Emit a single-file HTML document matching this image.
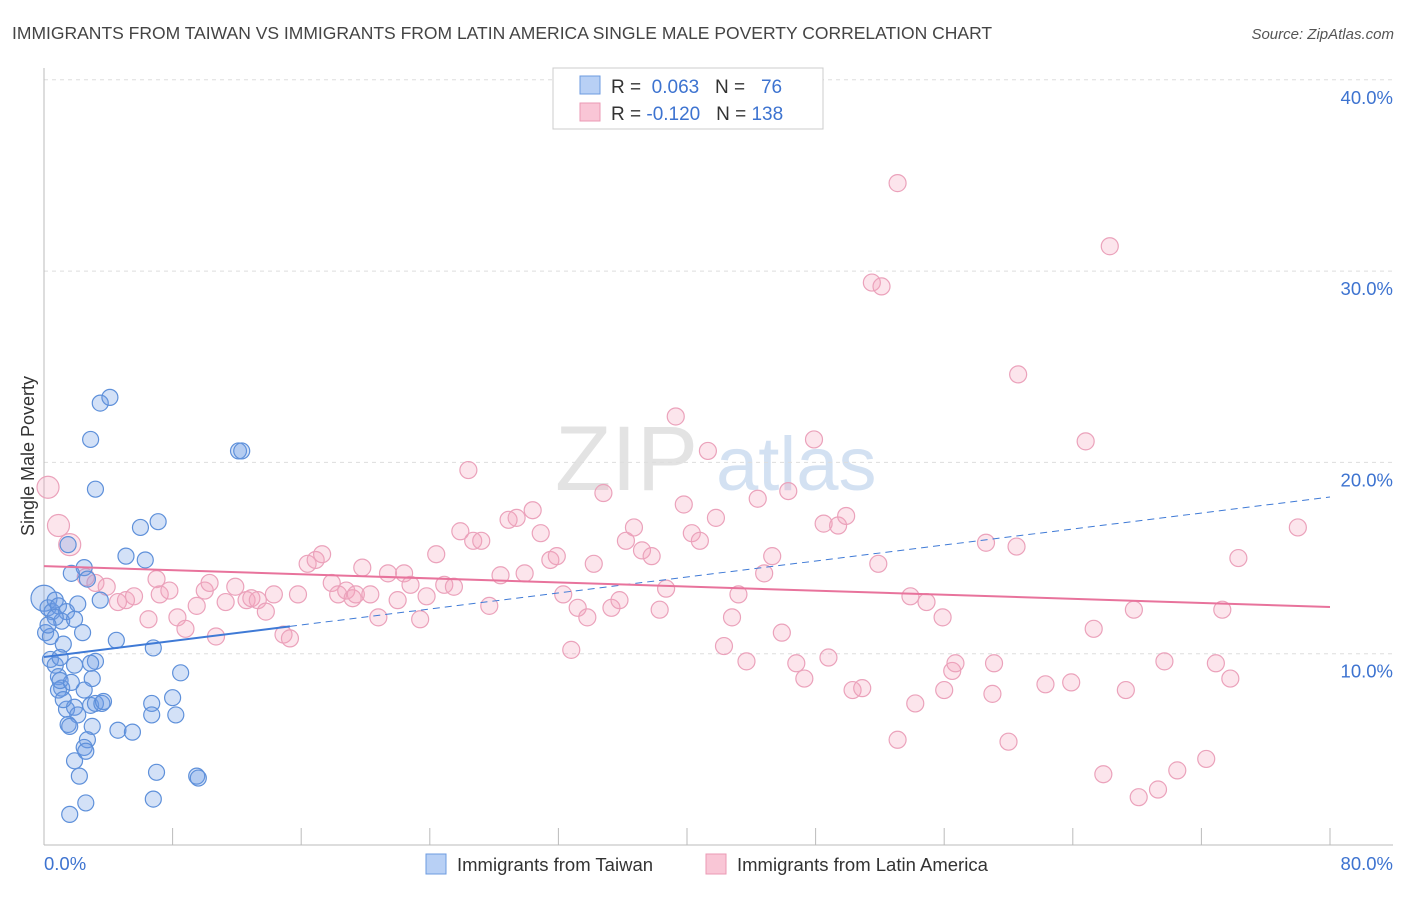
<!DOCTYPE html>
<html><head><meta charset="utf-8"><style>
body{margin:0;background:#fff;font-family:"Liberation Sans",sans-serif;}
svg text{font-family:"Liberation Sans",sans-serif;}
</style></head><body>
<svg id="chart" width="1406" height="892" xmlns="http://www.w3.org/2000/svg">
<text x="12" y="39" font-size="17.5" fill="#444">IMMIGRANTS FROM TAIWAN VS IMMIGRANTS FROM LATIN AMERICA SINGLE MALE POVERTY CORRELATION CHART</text>
<text x="1394" y="39" font-size="15" fill="#555" font-style="italic" text-anchor="end">Source: ZipAtlas.com</text>
<g><text x="555" y="490" font-size="92" fill="#ddd" font-family="Liberation Serif" opacity="0.8">ZIP</text><text x="716" y="490" font-size="76" fill="#c9daf0" opacity="0.8">atlas</text></g>
<g id="grid"></g>
<g id="axes"></g>
<g id="pts"></g>
<g id="trends"></g>
<text transform="translate(34,456) rotate(-90)" font-size="18" fill="#333" text-anchor="middle">Single Male Poverty</text>
<g>
<rect x="553" y="68" width="270" height="61" fill="#fff" stroke="#ccc"/>
<rect x="580" y="76" width="20" height="18" fill="#b8d0f5" stroke="#6d9be0"/>
<rect x="580" y="103" width="20" height="18" fill="#f9c6d6" stroke="#eb9ab4"/>
<text x="611" y="93" font-size="19" fill="#333">R = <tspan fill="#3d73d0">&#160;0.063</tspan>&#160;&#160;&#160;N = <tspan fill="#3d73d0">&#160;&#160;76</tspan></text>
<text x="611" y="120" font-size="19" fill="#333">R = <tspan fill="#3d73d0">-0.120</tspan>&#160;&#160;&#160;N = <tspan fill="#3d73d0">138</tspan></text>
</g>
<g>
<rect x="426" y="854" width="20" height="20" fill="#b8d0f5" stroke="#6d9be0"/>
<text x="457" y="871" font-size="18.5" fill="#333">Immigrants from Taiwan</text>
<rect x="706" y="854" width="20" height="20" fill="#f9c6d6" stroke="#eb9ab4"/>
<text x="737" y="871" font-size="18.5" fill="#333">Immigrants from Latin America</text>
</g>
</svg>
<script>
const yTicks=[10,20,30,40];
const yTickLabels=["10.0%","20.0%","30.0%","40.0%"];
const xTicks=[0,8,16,24,32,40,48,56,64,72,80];
const blueX=[0,0.25,0.5,0.1,0.4,0.7,0.9,1.4,2.1,1.1,1.9,2.4,0.4,0.7,1.0,1.9,3.2,0.9,1.1,0.9,1.4,1.9,2.1,2.9,3.2,3.6,3.7,1.5,1.6,3.0,2.7,2.5,2.6,1.9,2.2,2.6,1.6,1.7,2.5,2.7,1.5,3.2,2.9,3.5,4.1,5.1,6.0,7.1,6.3,4.5,6.8,8.5,6.7,8.0,8.2,6.7,4.6,5.5,7.0,9.5,9.6,6.8,12.1,12.3,3.0,3.5,0.7,0.25,1.0,2.5,1.2,1.2,2.9,1.7];
const blueY=[12.9,12.4,12.2,11.1,10.9,12.8,12.5,12.2,12.6,11.7,11.8,11.1,9.7,9.4,9.8,9.4,9.6,8.8,8.2,8.1,7.1,7.2,6.8,7.3,7.4,7.4,7.5,6.3,6.2,6.2,5.5,5.1,4.9,4.4,3.6,2.2,1.6,14.2,14.5,13.9,15.7,18.6,21.2,23.1,23.4,15.1,16.6,16.9,14.9,10.7,10.3,9.0,7.4,7.7,6.8,6.8,6.0,5.9,3.8,3.6,3.5,2.4,20.6,20.6,8.7,12.8,11.9,11.5,8.6,8.1,7.6,10.5,9.5,8.5];
const pinkX=[0.25,0.9,1.6,2.6,3.2,3.9,4.6,5.1,5.6,6.5,7.0,7.2,7.8,8.3,8.8,9.5,10.0,10.3,10.7,11.3,11.9,12.6,12.9,13.3,13.8,14.3,14.9,15.3,15.8,16.4,16.9,17.3,17.9,18.3,18.8,19.2,19.4,19.8,20.3,20.8,21.4,22.0,22.4,22.8,23.4,23.8,24.4,24.9,25.5,25.9,26.4,26.7,27.2,27.7,28.4,28.9,29.4,29.9,30.4,30.9,31.5,31.9,32.3,32.8,33.2,33.8,34.2,34.8,35.3,35.8,36.2,36.7,37.2,37.8,38.3,38.7,39.3,39.8,40.3,40.8,41.3,41.8,42.3,42.8,43.2,43.7,44.4,44.8,45.3,45.9,46.3,46.8,47.3,47.9,48.5,48.8,49.4,49.9,50.3,50.9,51.9,51.5,52.1,53.1,53.9,54.2,54.9,55.9,56.0,56.5,56.7,58.6,59.0,59.1,60.0,60.5,60.6,62.3,63.9,64.8,65.3,65.9,66.3,67.3,67.8,68.1,69.3,69.7,70.5,72.3,72.9,73.3,73.8,74.3,78.0,53.1];
const pinkY=[18.7,16.7,15.7,14.0,13.7,13.5,12.7,12.8,13.0,11.8,13.9,13.1,13.3,11.9,11.3,12.5,13.3,13.7,10.9,12.7,13.5,12.8,12.9,12.8,12.2,13.1,11.0,10.8,13.1,14.7,14.9,15.2,13.7,13.1,13.3,12.9,13.1,14.5,13.1,11.9,14.2,12.8,14.2,13.6,11.8,13.0,15.2,13.6,13.5,16.4,19.6,15.9,15.9,12.5,14.1,17.0,17.1,14.2,17.5,16.3,14.9,15.1,13.1,10.2,12.4,11.9,14.7,18.4,12.4,12.8,15.9,16.6,15.4,15.1,12.3,13.4,22.4,17.8,16.3,15.9,20.6,17.1,10.4,11.9,13.1,9.6,18.1,14.2,15.1,11.1,18.5,9.5,8.7,21.2,16.8,9.8,16.7,17.2,8.1,8.2,14.7,29.4,29.2,34.6,13.0,7.4,12.7,11.9,8.1,9.1,9.5,15.8,7.9,9.5,5.4,15.6,24.6,8.4,8.5,21.1,11.3,3.7,31.3,8.1,12.3,2.5,2.9,9.6,3.9,4.5,9.5,12.3,8.7,15.0,16.6,5.5];
const blueTrend=[9.83,18.19];
const pinkTrend=[14.58,12.44];
const NS="http://www.w3.org/2000/svg";
const X0=44,X1=1330,Y0=845,PXY=19.13;
function sx(v){return X0+(X1-X0)*v/80;}
function sy(v){return Y0-v*PXY;}
function mk(tag,attrs,parent){const e=document.createElementNS(NS,tag);for(const k in attrs)e.setAttribute(k,attrs[k]);parent.appendChild(e);return e;}
const grid=document.getElementById('grid'),axes=document.getElementById('axes'),pts=document.getElementById('pts'),tr=document.getElementById('trends');
yTicks.forEach((t,i)=>{
  const l=mk('line',{x1:X0,x2:1393,y1:sy(t),y2:sy(t),stroke:'#ddd','stroke-dasharray':'4,4'},grid);
  
  
  const tx=mk('text',{x:1393,y:sy(t)+24,'font-size':18.5,fill:'#3d73d0','text-anchor':'end'},grid);
  tx.textContent=yTickLabels[i];
  
  
});
let a=mk('line',{x1:X0,x2:X0,y1:68,y2:Y0,stroke:'#bbb'},axes);


a=mk('line',{x1:X0,x2:1393,y1:Y0,y2:Y0,stroke:'#bbb'},axes);


xTicks.forEach(t=>{
  const l=mk('line',{x1:sx(t),x2:sx(t),y1:828,y2:Y0,stroke:'#bbb'},axes);
  
  
});
let t0=mk('text',{x:44,y:870,'font-size':18.5,fill:'#3d73d0'},axes);t0.textContent='0.0%';


let t1=mk('text',{x:1393,y:870,'font-size':18.5,fill:'#3d73d0','text-anchor':'end'},axes);t1.textContent='80.0%';


pinkX.forEach((v,i)=>{
  const r=(v<2)?11:8.5;
  const c=mk('circle',{cx:sx(v),cy:sy(pinkY[i]),r:r,fill:'rgba(243,160,188,0.28)',stroke:'#eba2bb','stroke-width':1.2},pts);
  
  
});
blueX.forEach((v,i)=>{
  const r=(i===0)?13:8;
  const c=mk('circle',{cx:sx(v),cy:sy(blueY[i]),r:r,fill:'rgba(110,155,228,0.3)',stroke:'#5e90da','stroke-width':1.2},pts);
  
  
});
function ty(tv,x){return tv[0]+(tv[1]-tv[0])*x/80;}
let l=mk('line',{x1:sx(0),y1:sy(ty(blueTrend,0)),x2:sx(15.3),y2:sy(ty(blueTrend,15.3)),stroke:'#3f7ad6','stroke-width':2},tr);


l=mk('line',{x1:sx(15.3),y1:sy(ty(blueTrend,15.3)),x2:sx(80),y2:sy(ty(blueTrend,80)),stroke:'#3f7ad6','stroke-width':1,'stroke-dasharray':'7,5'},tr);


l=mk('line',{x1:sx(0),y1:sy(ty(pinkTrend,0)),x2:sx(80),y2:sy(ty(pinkTrend,80)),stroke:'#e8739c','stroke-width':2},tr);


</script>
</body></html>
